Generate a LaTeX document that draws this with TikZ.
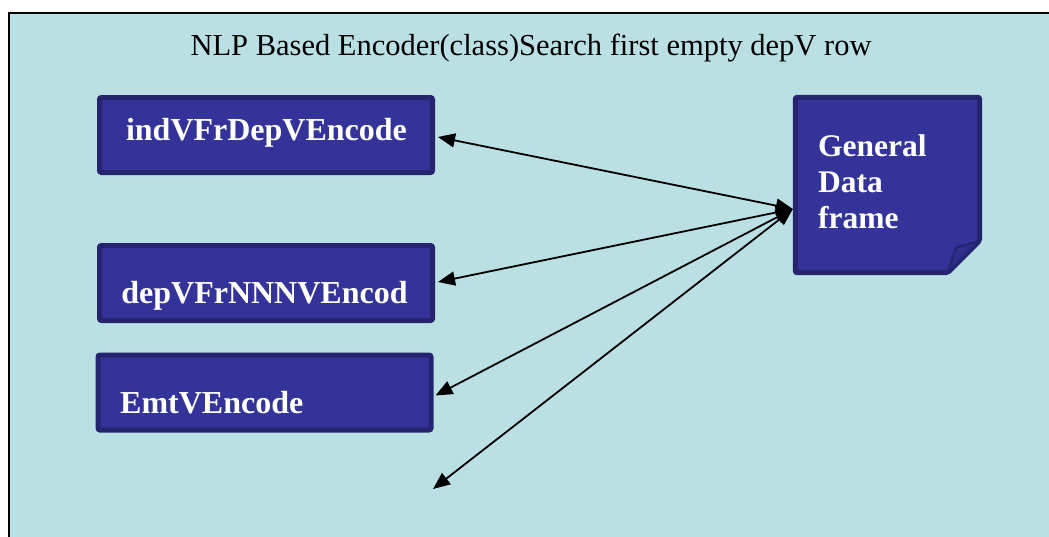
\documentclass[tikz,border=0pt]{standalone}
\usepackage{fontspec}
\setmainfont{Liberation Serif}
\usetikzlibrary{arrows.meta,calc}
\definecolor{panel}{HTML}{BAE0E3}
\definecolor{boxfill}{HTML}{333399}
\definecolor{boxedge}{HTML}{25256F}
\definecolor{foldfill}{HTML}{2E2E8A}
\begin{document}
\begin{tikzpicture}[x=1pt,y=-1pt,
  encbox/.style={draw=boxedge, fill=boxfill, line width=5pt, rounded corners=2pt,
    minimum width=333pt, minimum height=75pt, inner sep=0pt},
  boxtext/.style={text=white, font=\bfseries\fontsize{32}{36}\selectfont, inner sep=0pt},
  link/.style={line width=1.8pt,
    {Triangle[length=17pt,width=14pt]}-{Triangle[length=17pt,width=14pt]}},
  ]
\useasboundingbox (0,0) rectangle (1049,536);
\fill[white] (0,0) rectangle (1049,536);
\clip (0,0) rectangle (1049,536);

% outer panel
\draw[fill=panel, line width=1.5pt] (9,13) rectangle (1070,560);
\node[font=\fontsize{30.5}{34}\selectfont, anchor=base, inner sep=0pt] (title) at (531,55)
  {NLP Based Encoder(class)Search first empty depV row};

% encoder boxes
\node[encbox] (ind) at (266,135) {};
\node[boxtext, anchor=base] (indtxt) at (266.5,140) {indVFrDepVEncode};

\node[encbox] (dep) at (266,283) {};
\node[boxtext, anchor=base] (deptxt) at (264.5,303) {depVFrNNNVEncod};

\node[encbox] (emt) at (264.5,392.5) {};
\node[boxtext, anchor=base west] (emttxt) at (120,413) {EmtVEncode};

% general data frame (note with folded corner)
\node[minimum width=184pt, minimum height=175pt, inner sep=0pt] (gdf) at (887.5,185) {};
\draw[draw=boxedge, fill=boxfill, line width=5pt, rounded corners=2pt]
  (gdf.north west) -- (gdf.north east) -- ($(gdf.south east)+(0,-32)$)
  -- ($(gdf.south east)+(-32,0)$) -- (gdf.south west) -- cycle;
\draw[draw=boxedge, fill=foldfill, line width=2pt, line join=round]
  ($(gdf.south east)+(0,-32)$) -- ($(gdf.south east)+(-24,-25)$)
  -- ($(gdf.south east)+(-32,0)$) -- cycle;
\node[boxtext, font=\bfseries\fontsize{31.5}{36}\selectfont, anchor=base west, align=left]
  (gdftxt) at (818,228) {General\\Data\\frame};

% connectors
\coordinate (hub) at ($(gdf.west)+(-2.5,24)$);
\coordinate (loose) at (433,489);
\draw[link] ($(ind.east)+(3,2)$) -- (hub);
\draw[link] ($(dep.east)+(3,-1)$) -- (hub);
\draw[link] ($(emt.east)+(2,3)$) -- (hub);
\draw[link] (loose) -- (hub);
\end{tikzpicture}
\end{document}
